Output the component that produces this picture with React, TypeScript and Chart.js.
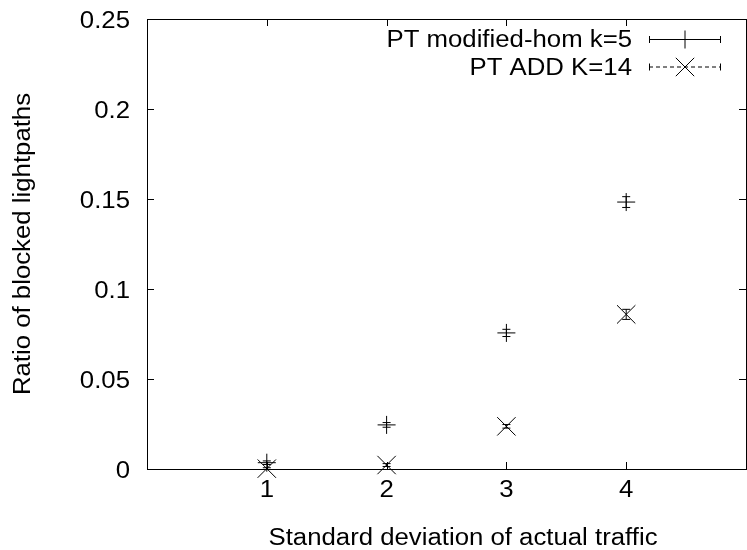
import React, { useEffect, useRef } from 'react';
import { Chart, registerables } from 'chart.js';

Chart.register(...registerables);

// Standard deviation of the offered traffic (x) and blocking ratios (y)
const STD_DEV = [1, 2, 3, 4];
const HOM_RATIO = [0.0035, 0.0245, 0.0756, 0.1483];
const HOM_ERR = [0.001, 0.0013, 0.002, 0.003];
const ADD_RATIO = [0.0002, 0.0022, 0.0237, 0.0859];
const ADD_ERR = [0.0005, 0.0008, 0.001, 0.0028];

const SERIES_LABELS = ['PT modified-hom k=5', 'PT ADD K=14'];

const X_TICKS = [1, 2, 3, 4];
const X_TICK_LABELS = ['1', '2', '3', '4'];
const Y_TICKS = [0, 0.05, 0.1, 0.15, 0.2, 0.25];
const Y_TICK_LABELS = ['0', '0.05', '0.1', '0.15', '0.2', '0.25'];

const X_TITLE = 'Standard deviation of actual traffic';
const Y_TITLE = 'Ratio of blocked lightpaths';

const FONT = '23px "Liberation Sans", Arial, Helvetica, sans-serif';
const STRETCH = 1.12;
const INK = '#000';

function drawText(
  ctx: CanvasRenderingContext2D,
  text: string,
  x: number,
  y: number,
  align: CanvasTextAlign,
  rotate = false,
) {
  ctx.save();
  ctx.translate(x, y);
  if (rotate) ctx.rotate(-Math.PI / 2);
  ctx.scale(STRETCH, 1);
  ctx.font = FONT;
  ctx.fillStyle = INK;
  ctx.textAlign = align;
  ctx.textBaseline = 'alphabetic';
  ctx.fillText(text, 0, 0);
  ctx.restore();
}

function drawMarker(ctx: CanvasRenderingContext2D, style: string, x: number, y: number, r: number) {
  ctx.beginPath();
  if (style === 'cross') {
    ctx.moveTo(x - r, y);
    ctx.lineTo(x + r, y);
    ctx.moveTo(x, y - r);
    ctx.lineTo(x, y + r);
  } else {
    const d = r * Math.SQRT1_2;
    ctx.moveTo(x - d, y - d);
    ctx.lineTo(x + d, y + d);
    ctx.moveTo(x + d, y - d);
    ctx.lineTo(x - d, y + d);
  }
  ctx.stroke();
}

const gnuplotFrame = {
  id: 'gnuplotFrame',
  beforeDatasetsDraw(chart: any) {
    const ctx: CanvasRenderingContext2D = chart.ctx;
    const xs = chart.scales.x;
    const ys = chart.scales.y;
    ctx.save();
    ctx.strokeStyle = INK;
    ctx.lineWidth = 1;
    chart.data.datasets.forEach((ds: any) => {
      ds.data.forEach((p: any, i: number) => {
        const e = ds.errors[i];
        const px = xs.getPixelForValue(p.x);
        const y1 = ys.getPixelForValue(p.y - e);
        const y2 = ys.getPixelForValue(p.y + e);
        ctx.beginPath();
        ctx.moveTo(px, y1);
        ctx.lineTo(px, y2);
        ctx.moveTo(px - 4, y1);
        ctx.lineTo(px + 4, y1);
        ctx.moveTo(px - 4, y2);
        ctx.lineTo(px + 4, y2);
        ctx.stroke();
      });
    });
    ctx.restore();
  },
  afterDraw(chart: any) {
    const ctx: CanvasRenderingContext2D = chart.ctx;
    const { left, right, top, bottom } = chart.chartArea;
    const xs = chart.scales.x;
    const ys = chart.scales.y;
    const tick = 7;

    ctx.save();
    ctx.strokeStyle = INK;
    ctx.lineWidth = 1;
    ctx.strokeRect(left + 0.5, top + 0.5, right - left, bottom - top);

    ctx.beginPath();
    X_TICKS.forEach((v) => {
      const px = Math.round(xs.getPixelForValue(v)) + 0.5;
      ctx.moveTo(px, bottom);
      ctx.lineTo(px, bottom - tick);
      ctx.moveTo(px, top);
      ctx.lineTo(px, top + tick);
    });
    Y_TICKS.forEach((v) => {
      const py = Math.round(ys.getPixelForValue(v)) + 0.5;
      ctx.moveTo(left, py);
      ctx.lineTo(left + tick, py);
      ctx.moveTo(right, py);
      ctx.lineTo(right - tick, py);
    });
    ctx.stroke();

    X_TICKS.forEach((v, i) => {
      drawText(ctx, X_TICK_LABELS[i], xs.getPixelForValue(v), bottom + 28, 'center');
    });
    Y_TICKS.forEach((v, i) => {
      drawText(ctx, Y_TICK_LABELS[i], left - 17, ys.getPixelForValue(v) + 9, 'right');
    });

    drawText(ctx, X_TITLE, 463, 545, 'center');
    drawText(ctx, Y_TITLE, 30, (top + bottom) / 2, 'center', true);

    // key in the upper right corner
    chart.data.datasets.forEach((ds: any, i: number) => {
      const rowY = 39.5 + i * 27.5;
      drawText(ctx, ds.label, 632, rowY + 7.5, 'right');
      ctx.save();
      ctx.setLineDash(ds.keyDash);
      ctx.beginPath();
      ctx.moveTo(649, rowY);
      ctx.lineTo(721, rowY);
      ctx.stroke();
      ctx.restore();
      ctx.beginPath();
      ctx.moveTo(649.5, rowY - 3.5);
      ctx.lineTo(649.5, rowY + 3.5);
      ctx.moveTo(720.5, rowY - 3.5);
      ctx.lineTo(720.5, rowY + 3.5);
      ctx.stroke();
      drawMarker(ctx, ds.pointStyle, 685, rowY, ds.pointRadius);
    });
    ctx.restore();
  },
};

export default function App() {
  const canvasRef = useRef<HTMLCanvasElement | null>(null);

  useEffect(() => {
    if (!canvasRef.current) return;
    const chart = new Chart(canvasRef.current, {
      type: 'scatter',
      data: {
        datasets: [
          {
            label: SERIES_LABELS[0],
            data: STD_DEV.map((x, i) => ({ x, y: HOM_RATIO[i] })),
            errors: HOM_ERR,
            keyDash: [],
            pointStyle: 'cross',
            pointRadius: 9,
            borderColor: INK,
            backgroundColor: INK,
            borderWidth: 1,
            clip: false,
          } as any,
          {
            label: SERIES_LABELS[1],
            data: STD_DEV.map((x, i) => ({ x, y: ADD_RATIO[i] })),
            errors: ADD_ERR,
            keyDash: [4, 3],
            pointStyle: 'crossRot',
            pointRadius: 13,
            borderColor: INK,
            backgroundColor: INK,
            borderWidth: 1,
            clip: false,
          } as any,
        ],
      },
      options: {
        animation: false,
        responsive: true,
        maintainAspectRatio: false,
        devicePixelRatio: 1,
        events: [],
        layout: { padding: { top: 19, right: 7, left: 0, bottom: 0 } },
        plugins: {
          legend: { display: false },
          tooltip: { enabled: false },
        },
        scales: {
          x: {
            type: 'linear',
            min: 0,
            max: 5,
            grid: { display: false },
            border: { display: false },
            ticks: { display: false },
            afterBuildTicks: (s: any) => {
              s.ticks = X_TICKS.map((value) => ({ value }));
            },
            afterFit: (s: any) => {
              s.height = 81;
            },
          },
          y: {
            type: 'linear',
            min: 0,
            max: 0.25,
            grid: { display: false },
            border: { display: false },
            ticks: { display: false },
            afterBuildTicks: (s: any) => {
              s.ticks = Y_TICKS.map((value) => ({ value }));
            },
            afterFit: (s: any) => {
              s.width = 147;
            },
          },
        },
      } as any,
      plugins: [gnuplotFrame],
    });
    return () => chart.destroy();
  }, []);

  return (
    <div
      style={{
        position: 'absolute',
        left: 0,
        top: 0,
        width: 747,
        height: 550,
        overflow: 'hidden',
        background: '#fff',
      }}
    >
      <div style={{ position: 'relative', width: 760, height: 550 }}>
        <canvas ref={canvasRef} />
      </div>
    </div>
  );
}
